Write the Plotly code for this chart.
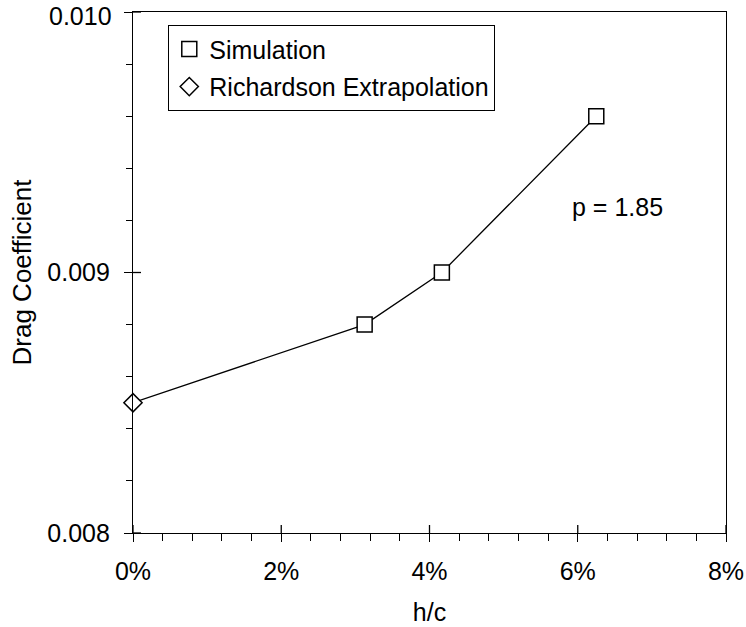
import plotly.graph_objects as go

# ---- data ----
sim_hc = [0.03125, 0.041667, 0.0625]
sim_cd = [0.0088, 0.0090, 0.0096]
rich_hc = [0.0]
rich_cd = [0.0085]
p_label = "p = 1.85"
x_title = "h/c"
y_title = "Drag Coefficient"
x_tickvals = [0.0, 0.02, 0.04, 0.06, 0.08]
y_tickvals = [0.008, 0.009, 0.010]

line_x = rich_hc + sim_hc
line_y = rich_cd + sim_cd

FONT = "Liberation Sans, Arial, sans-serif"
FS = 25
X_RANGE = [0, 0.08]
Y_RANGE = [0.008, 0.010]
MAJ_IN = 8  # inner half of the crossing major ticks, px

# top label is nudged down (as in the original) so it stays inside the page
y_ticktext = [f"{v:.3f}" for v in y_tickvals[:-1]] + [""]

fig = go.Figure()
fig.add_trace(go.Scatter(
    x=line_x, y=line_y, mode="lines",
    line=dict(color="black", width=1.3),
    showlegend=False, hoverinfo="skip", cliponaxis=False))
fig.add_trace(go.Scatter(
    x=sim_hc, y=sim_cd, mode="markers", name="Simulation", legendgroup="a",
    marker=dict(symbol="square", size=15, color="white",
                line=dict(color="black", width=1.5)), cliponaxis=False))
fig.add_trace(go.Scatter(
    x=rich_hc, y=rich_cd, mode="markers", name="Richardson Extrapolation", legendgroup="b",
    marker=dict(symbol="diamond", size=14, color="white",
                line=dict(color="black", width=1.5)), cliponaxis=False))

# inner halves of the major ticks (they cross the axis line in the original)
for v in x_tickvals:
    fig.add_shape(type="line", xref="x", yref="y domain", x0=v, x1=v,
                  ysizemode="pixel", yanchor=0, y0=0, y1=MAJ_IN,
                  line=dict(color="black", width=1.3), layer="above")
for v in y_tickvals:
    fig.add_shape(type="line", yref="y", xref="x domain", y0=v, y1=v,
                  xsizemode="pixel", xanchor=0, x0=0, x1=MAJ_IN,
                  line=dict(color="black", width=1.3), layer="above")

fig.add_annotation(xref="paper", x=0, xanchor="right", xshift=-19,
                   yref="y", y=y_tickvals[-1], yanchor="middle", yshift=-4,
                   text=f"{y_tickvals[-1]:.3f}", showarrow=False,
                   font=dict(family=FONT, size=FS, color="black"))

fig.add_annotation(x=0.0589, y=0.00925, xref="x", yref="y", text=p_label,
                   showarrow=False, xanchor="left", yanchor="middle",
                   font=dict(family=FONT, size=FS, color="black"))

axis_common = dict(showgrid=False, zeroline=False, linecolor="black", linewidth=1.3,
                   tickcolor="black", tickwidth=1.3, ticklabeloverflow="allow",
                   automargin=False,
                   tickfont=dict(family=FONT, size=FS, color="black"))

fig.update_layout(
    width=746, height=627,
    margin=dict(l=133, r=20, t=12, b=94),
    paper_bgcolor="white", plot_bgcolor="white",
    font=dict(family=FONT, size=FS, color="black"),
    showlegend=True,
    legend=dict(x=0.059, y=0.975, xanchor="left", yanchor="top",
                bordercolor="black", borderwidth=1.3, bgcolor="white",
                font=dict(family=FONT, size=FS, color="black"),
                itemwidth=30, tracegroupgap=2,
                entrywidth=294, entrywidthmode="pixels"),
    xaxis=dict(range=X_RANGE, tickmode="array", tickvals=x_tickvals, tickformat=".0%",
               ticks="outside", ticklen=8, mirror=True, showline=True,
               ticklabelstandoff=8,
               minor=dict(dtick=0.004, tick0=0, ticks="outside", ticklen=7,
                          tickcolor="black", tickwidth=1.3),
               title=dict(text=x_title, font=dict(family=FONT, size=FS), standoff=19),
               **axis_common),
    yaxis=dict(range=Y_RANGE, tickmode="array", tickvals=y_tickvals, ticktext=y_ticktext,
               ticks="outside", ticklen=8, mirror=True, showline=True,
               ticklabelstandoff=9,
               minor=dict(dtick=0.0002, tick0=0.008, ticks="outside", ticklen=6,
                          tickcolor="black", tickwidth=1.3),
               title=dict(text=y_title, font=dict(family=FONT, size=26), standoff=8),
               **axis_common),
)

fig.write_html("out.html")
